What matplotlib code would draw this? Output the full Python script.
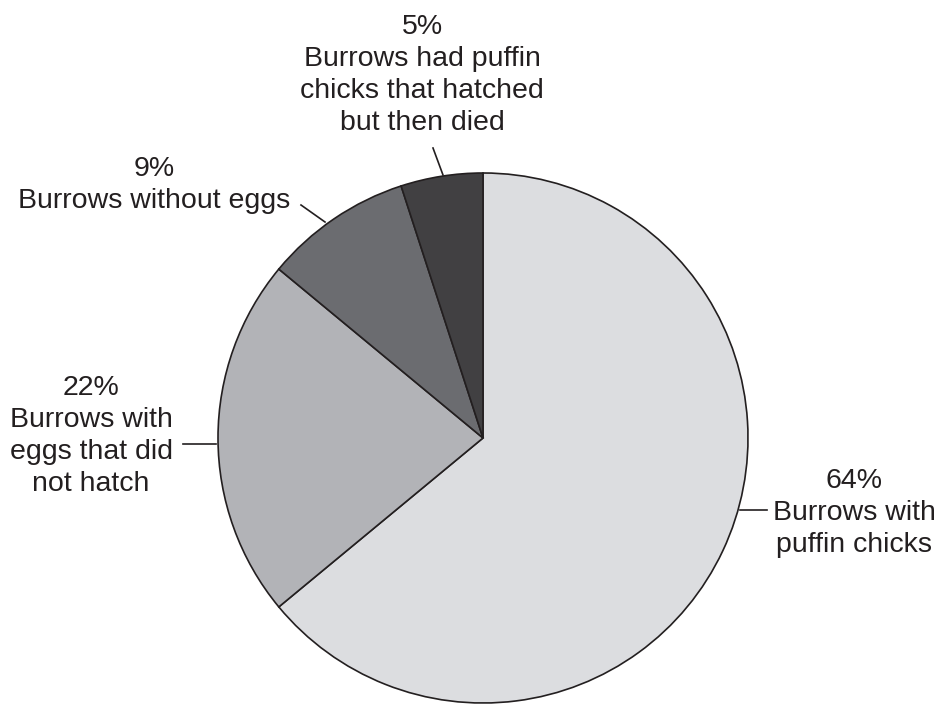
import matplotlib
matplotlib.use("Agg")
import matplotlib.pyplot as plt

# %% DATA
shares = [64, 22, 9, 5]
categories = [
    "Burrows with\npuffin chicks",
    "Burrows with\neggs that did\nnot hatch",
    "Burrows without eggs",
    "Burrows had puffin\nchicks that hatched\nbut then died",
]
colors = ["#dcdde0", "#b2b3b7", "#6b6c70", "#414042"]

# label block centres and leader lines in pixel coords (y measured from top)
label_pos = [(854, 513), (91, 436), (154, 185), (422, 75)]
leaders = [
    ((740, 510), (767, 510)),
    ((183, 444), (216, 444)),
    ((301, 205), (325, 222)),
    ((433, 148), (443, 175)),
]

W, H = 942, 704

# %% PLOTTING
plt.rcParams["font.family"] = ["Liberation Sans", "DejaVu Sans"]
fig = plt.figure(figsize=(W / 100, H / 100), dpi=100)
ax = fig.add_axes([0, 0, 1, 1])
ax.axis("off")

ax.pie(shares, colors=colors, startangle=90, counterclock=False,
       center=(483, H - 438), radius=265,
       wedgeprops=dict(edgecolor="#231f20", linewidth=1.2))
ax.set_xlim(0, W)
ax.set_ylim(0, H)
ax.set_aspect("auto")

for share, cat, (x, y) in zip(shares, categories, label_pos):
    ax.text(x, H - y, f"{share}%\n{cat}", ha="center", va="center",
            fontsize=20.5, color="#231f20", linespacing=1.31)

for (x0, y0), (x1, y1) in leaders:
    ax.plot([x0, x1], [H - y0, H - y1], color="#231f20", lw=1.2)

fig.savefig("out.png", dpi=100, facecolor="white")
